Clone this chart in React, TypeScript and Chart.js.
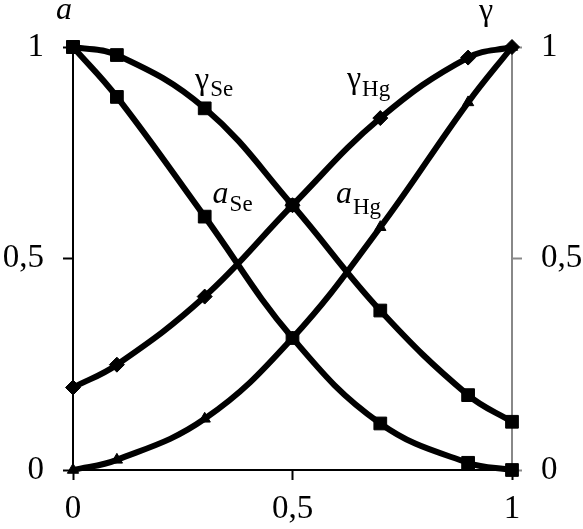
import React, { useEffect, useRef } from 'react';
import { Chart, registerables } from 'chart.js';

Chart.register(...registerables);

// ---- data ----
const xValues = [0, 0.1, 0.3, 0.5, 0.7, 0.9, 1];
const gammaSe = [1.0, 0.981, 0.855, 0.626, 0.377, 0.177, 0.114];
const aSe = [1.0, 0.882, 0.599, 0.312, 0.110, 0.017, 0.0];
const gammaHg = [0.195, 0.249, 0.410, 0.626, 0.832, 0.975, 1.0];
const aHg = [0.0, 0.024, 0.121, 0.312, 0.574, 0.869, 1.0];
const xTickValues = [0, 0.5, 1];
const xTickLabels = ['0', '0,5', '1'];
const yTickLabels = ['0', '0,5', '1'];

const FONT = '"Liberation Serif", "Times New Roman", Times, serif';
const TICK_SIZE = 33;
const MAIN_SIZE = 32;
const SUB_SIZE = 23;

// curve labels anchored in data units
const curveLabels = [
  { main: 'γ', sub: 'Se', x: 0.278, y: 0.900, italic: false, subDy: 7 },
  { main: 'a', sub: 'Se', x: 0.318, y: 0.631, italic: true, subDy: 8 },
  { main: 'γ', sub: 'Hg', x: 0.624, y: 0.902, italic: false, subDy: 8 },
  { main: 'a', sub: 'Hg', x: 0.599, y: 0.631, italic: true, subDy: 11 },
];

const labelPlugin = {
  id: 'curveLabels',
  afterDatasetsDraw(chart: any) {
    const { ctx, chartArea, scales } = chart;
    const xs = scales.x;
    const ys = scales.y;
    ctx.save();
    ctx.fillStyle = '#000';
    ctx.textBaseline = 'alphabetic';
    ctx.textAlign = 'left';
    for (const l of curveLabels) {
      const px = xs.getPixelForValue(l.x);
      const py = ys.getPixelForValue(l.y);
      ctx.font = `${l.italic ? 'italic ' : ''}${MAIN_SIZE}px ${FONT}`;
      ctx.fillText(l.main, px, py);
      const w = ctx.measureText(l.main).width;
      ctx.font = `${SUB_SIZE}px ${FONT}`;
      ctx.fillText(l.sub, px + w + 1, py + l.subDy);
    }
    // axis titles
    ctx.font = `italic ${MAIN_SIZE}px ${FONT}`;
    ctx.fillText('a', chartArea.left - 17, 19);
    ctx.font = `${MAIN_SIZE}px ${FONT}`;
    ctx.fillText('γ', chartArea.right - 33, 20);
    ctx.restore();
  },
};

function ds(label: string, data: number[], style: string, radius: number) {
  return {
    label,
    data: xValues.map((x, i) => ({ x, y: data[i] })),
    borderColor: '#000',
    backgroundColor: '#000',
    borderWidth: 6,
    tension: 0.4,
    pointStyle: style,
    pointRadius: radius,
    pointBorderWidth: 1,
    pointBackgroundColor: '#000',
    pointBorderColor: '#000',
    clip: false,
    yAxisID: 'y',
  };
}

function tickOpts(labels: string[], padding: number) {
  return {
    callback: (_v: any, i: number) => labels[i],
    font: { family: FONT, size: TICK_SIZE },
    color: '#000',
    padding,
    maxRotation: 0,
  };
}

function buildChart(canvas: HTMLCanvasElement) {
  return new Chart(canvas, {
    type: 'line',
    data: {
      datasets: [
        ds('γSe', gammaSe, 'rect', 9),
        ds('aSe', aSe, 'rect', 9),
        ds('γHg', gammaHg, 'rectRot', 7.5),
        ds('aHg', aHg, 'triangle', 6.5),
      ] as any,
    },
    options: {
      animation: false,
      responsive: false,
      layout: { padding: { top: 47, left: 0, right: 0, bottom: 0 } },
      plugins: { legend: { display: false }, tooltip: { enabled: false } },
      scales: {
        x: {
          type: 'linear',
          min: 0,
          max: 1,
          afterBuildTicks: (s: any) => {
            s.ticks = xTickValues.map((v) => ({ value: v }));
          },
          afterFit: (s: any) => {
            s.height = 59;
          },
          ticks: tickOpts(xTickLabels, 10),
          grid: { drawOnChartArea: false, drawTicks: true, tickLength: 10, tickColor: '#000', tickWidth: 2 },
          border: { display: true, color: '#000', width: 2 },
        },
        y: {
          type: 'linear',
          position: 'left',
          min: 0,
          max: 1,
          afterBuildTicks: (s: any) => {
            s.ticks = xTickValues.map((v) => ({ value: v }));
          },
          afterFit: (s: any) => {
            s.width = 73;
          },
          ticks: tickOpts(yTickLabels, 19),
          grid: { drawOnChartArea: false, drawTicks: true, tickLength: 10, tickColor: '#000', tickWidth: 2 },
          border: { display: true, color: '#000', width: 2 },
        },
        y2: {
          type: 'linear',
          position: 'right',
          min: 0,
          max: 1,
          afterBuildTicks: (s: any) => {
            s.ticks = xTickValues.map((v) => ({ value: v }));
          },
          afterFit: (s: any) => {
            s.width = 71;
          },
          ticks: tickOpts(yTickLabels, 19),
          grid: { drawOnChartArea: false, drawTicks: true, tickLength: 10, tickColor: '#888', tickWidth: 2 },
          border: { display: true, color: '#888', width: 2 },
        },
      },
    },
    plugins: [labelPlugin],
  } as any);
}

export default function App() {
  const ref = useRef<HTMLCanvasElement>(null);
  useEffect(() => {
    if (!ref.current) return;
    const chart = buildChart(ref.current);
    return () => chart.destroy();
  }, []);
  return (
    <div style={{ position: 'fixed', left: 0, top: 0, width: 583, height: 529, background: '#fff' }}>
      <canvas ref={ref} width={583} height={529} style={{ display: 'block' }} />
    </div>
  );
}
